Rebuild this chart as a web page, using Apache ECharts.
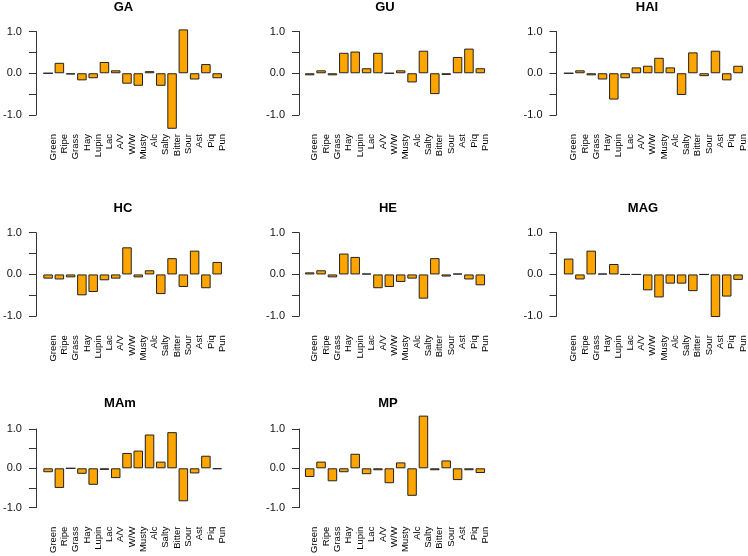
<!DOCTYPE html>
<html><head><meta charset="utf-8">
<script src="https://cdn.jsdelivr.net/npm/echarts@6/dist/echarts.min.js"></script>
<style>html,body{margin:0;padding:0;background:#fff}#c{width:748px;height:556px}</style>
</head><body><div id="c"></div>
<script>
// ---- data ----
const categories = ['Green','Ripe','Grass','Hay','Lupin','Lac','A/V','W/W','Musty','Alc','Salty','Bitter','Sour','Ast','Piq','Pun'];
const panelNames = ['GA','GU','HAI','HC','HE','MAG','MAm','MP'];
const GA  = [0.00, 0.25, -0.03, -0.17, -0.12, 0.27, 0.07, -0.25, -0.30, 0.05, -0.30, -1.33, 1.05, -0.15, 0.22, -0.12];
const GU  = [-0.05, 0.07, -0.05, 0.49, 0.52, 0.12, 0.49, 0.00, 0.07, -0.22, 0.54, -0.50, -0.04, 0.39, 0.59, 0.12];
const HAI = [0.00, 0.07, -0.05, -0.15, -0.63, -0.12, 0.14, 0.18, 0.37, 0.14, -0.52, 0.50, -0.07, 0.54, -0.17, 0.18];
const HC  = [-0.10, -0.12, -0.07, -0.50, -0.42, -0.14, -0.10, 0.65, -0.07, 0.10, -0.47, 0.39, -0.30, 0.57, -0.33, 0.30];
const HE  = [0.05, 0.10, -0.07, 0.50, 0.42, 0.02, -0.33, -0.30, -0.18, -0.10, -0.58, 0.39, -0.05, 0.02, -0.12, -0.26];
const MAG = [0.38, -0.12, 0.57, 0.02, 0.25, 0.00, 0.00, -0.38, -0.55, -0.22, -0.22, -0.40, 0.00, -1.02, -0.53, -0.13];
const MAm = [-0.10, -0.50, 0.00, -0.14, -0.42, -0.04, -0.25, 0.39, 0.45, 0.86, 0.17, 0.92, -0.84, -0.13, 0.32, -0.02];
const MP  = [-0.22, 0.17, -0.33, -0.10, 0.37, -0.15, -0.05, -0.38, 0.15, -0.70, 1.34, -0.05, 0.20, -0.30, -0.05, -0.12];
const panelValues = [GA, GU, HAI, HC, HE, MAG, MAm, MP];
const yTickValues = [-1, -0.5, 0, 0.5, 1];
const yTickLabels = ['-1.0', '', '0.0', '', '1.0'];

// ---- layout ----
const colLeft = [40.8, 304.0, 563.0];
const colAxisOffset = [6.5, 5, 6.5];
const rowTop = [31.5, 232.7, 429];
const plotW = 182, plotH = 83.5;
const titleX = [123.5, 385, 647, 123, 388, 643, 120, 388];
const titleY = [8, 209, 404];

const font = 'Liberation Sans, Arial, Helvetica, sans-serif';
const grids = [], xAxes = [], yAxes = [], series = [], titles = [];
panelValues.forEach((vals, i) => {
  const r = Math.floor(i / 3), c = i % 3;
  grids.push({left: colLeft[c], top: rowTop[r], width: plotW, height: plotH});
  xAxes.push({
    type: 'category', gridIndex: i, data: categories,
    axisLine: {show: false, onZero: false}, axisTick: {show: false},
    axisLabel: {rotate: 90, interval: 0, fontSize: 9.5, margin: 19, color: '#000',
      fontFamily: font, verticalAlign: 'top'}
  });
  yAxes.push({
    type: 'value', gridIndex: i, min: -1, max: 1, interval: 0.5, offset: colAxisOffset[c],
    splitLine: {show: false},
    axisLine: {show: true, lineStyle: {color: '#333', width: 1}},
    axisTick: {show: true, inside: false, length: 7, lineStyle: {color: '#333'}},
    axisLabel: {fontSize: 11, margin: 14, color: '#111', fontFamily: font,
      formatter: v => { const k = yTickValues.findIndex(t => Math.abs(t - v) < 1e-9); return k < 0 ? '' : yTickLabels[k]; }}
  });
  series.push({
    type: 'bar', xAxisIndex: i, yAxisIndex: i, data: vals, clip: false,
    barWidth: 9.5, animation: false,
    itemStyle: {color: '#FFA500', borderColor: '#222', borderWidth: 1}
  });
  titles.push({
    text: panelNames[i], left: titleX[i], top: titleY[r] - 7, textAlign: 'center', padding: 0,
    textStyle: {fontSize: 13, fontWeight: 'bold', color: '#000', fontFamily: font}
  });
});

const chart = echarts.init(document.getElementById('c'), null, {renderer: 'canvas'});
chart.setOption({
  animation: false, backgroundColor: '#fff',
  title: titles, grid: grids, xAxis: xAxes, yAxis: yAxes, series: series
});
</script>
</body></html>
